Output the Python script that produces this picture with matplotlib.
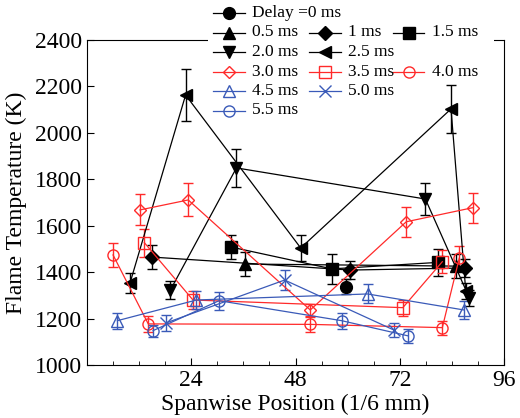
import matplotlib
matplotlib.use("Agg")
import matplotlib.pyplot as plt
from matplotlib.lines import Line2D
from matplotlib.patches import Rectangle
from matplotlib.ticker import MultipleLocator

plt.rcParams['font.family'] = ['Liberation Serif', 'DejaVu Serif']

# spanwise position (1/6 mm), temperature (K), error (K) per delay
x_0 = [59.6]
y_0 = [1337]
e_0 = [32]

x_05 = [36.3, 84.9]
y_05 = [1435, 1426]
e_05 = [50, 50]

x_1 = [14.9, 60.6, 87.0]
y_1 = [1465, 1409, 1418]
e_1 = [50, 40, 40]

x_15 = [33.2, 56.4, 80.8]
y_15 = [1508, 1414, 1442]
e_15 = [50, 65, 58]

x_20 = [19.2, 34.4, 77.9, 88.0]
y_20 = [1323, 1849, 1715, 1290]
e_20 = [40, 82, 70, 35]

x_25 = [9.9, 22.7, 49.2, 83.8, 87.2]
y_25 = [1353, 2163, 1504, 2103, 1318]
e_25 = [43, 112, 55, 105, 35]

x_30 = [12.2, 23.3, 51.4, 73.5, 88.9]
y_30 = [1668, 1711, 1237, 1617, 1678]
e_30 = [67, 71, 26, 65, 65]

x_35 = [13.2, 24.4, 72.7, 81.8]
y_35 = [1527, 1280, 1247, 1445]
e_35 = [60, 39, 34, 50]

x_40 = [6.0, 14.1, 51.4, 81.8, 85.7]
y_40 = [1474, 1177, 1175, 1161, 1460]
e_40 = [52, 34, 32, 30, 54]

x_45 = [7.0, 25.2, 64.6, 86.8]
y_45 = [1191, 1280, 1306, 1237]
e_45 = [34, 39, 41, 39]

x_50 = [18.3, 45.5, 70.6]
y_50 = [1182, 1366, 1151]
e_50 = [34, 45, 30]

x_55 = [15.2, 30.4, 58.6, 73.8]
y_55 = [1148, 1277, 1191, 1126]
e_55 = [26, 39, 34, 30]

labels = ['Delay =0 ms', '0.5 ms', '1 ms', '1.5 ms', '2.0 ms', '2.5 ms',
          '3.0 ms', '3.5 ms', '4.0 ms', '4.5 ms', '5.0 ms', '5.5 ms']

red = '#ff2a2a'
blue = '#3a5ab8'

series = [
    (x_0, y_0, e_0, 'black', 'o', True),
    (x_05, y_05, e_05, 'black', '^', True),
    (x_1, y_1, e_1, 'black', 'D', True),
    (x_15, y_15, e_15, 'black', 's', True),
    (x_20, y_20, e_20, 'black', 'v', True),
    (x_25, y_25, e_25, 'black', '<', True),
    (x_30, y_30, e_30, red, 'D', False),
    (x_35, y_35, e_35, red, 's', False),
    (x_40, y_40, e_40, red, 'o', False),
    (x_45, y_45, e_45, blue, '^', False),
    (x_50, y_50, e_50, blue, 'x', False),
    (x_55, y_55, e_55, blue, 'o', False),
]


def marker_style(color, marker, filled):
    ms = 8.5 if filled else 8
    if marker == 'D':
        ms = 7 if filled else 6.5
    if marker == 'x':
        ms = 8.5
    return dict(marker=marker, markersize=ms,
                markerfacecolor=color if filled else 'none',
                markeredgecolor=color, markeredgewidth=1.0)


fig = plt.figure(figsize=(5.2, 4.18), dpi=100)
ax = fig.add_axes([87 / 520, 1 - 365 / 418, (504 - 87) / 520, (365 - 40) / 418])

for (xs, ys, es, color, marker, filled) in series:
    ax.errorbar(xs, ys, yerr=es, color=color, linewidth=0.9, elinewidth=1.0,
                capsize=3.5, capthick=1.0, ecolor=color,
                **marker_style(color, marker, filled))

ax.set_xlim(0, 96)
ax.set_ylim(1000, 2400)
ax.set_xticks([24, 48, 72, 96])
ax.xaxis.set_minor_locator(MultipleLocator(6))
ax.set_yticks(range(1000, 2401, 200))
ax.tick_params(which='both', direction='in', labelsize=17, top=False, right=False)
ax.tick_params(which='major', length=5)
ax.tick_params(which='minor', length=3)
ax.set_xlabel('Spanwise Position (1/6 mm)', fontsize=17, labelpad=2)
ax.set_ylabel('Flame Temperature (K)', fontsize=17, labelpad=6)

# legend laid out like the original (white background over top spine)
fig.add_artist(Rectangle((208 / 520, 1 - 46 / 418), (494 - 208) / 520, 46 / 418,
                         transform=fig.transFigure, facecolor='white',
                         edgecolor='none', zorder=5))

rows = [13, 32.5, 52, 71.5, 91, 110.5]
cols = [(213, 245, 252), (309, 341, 348), (393, 424, 432)]
slots = [(0, 0), (1, 0), (1, 1), (1, 2), (2, 0), (2, 1),
         (3, 0), (3, 1), (3, 2), (4, 0), (4, 1), (5, 0)]

for (r, c), label, (xs, ys, es, color, marker, filled) in zip(slots, labels, series):
    x0, x1, xt = cols[c]
    yy = 1 - rows[r] / 418
    fig.add_artist(Line2D([x0 / 520, x1 / 520], [yy, yy], transform=fig.transFigure,
                          color=color, linewidth=0.9, zorder=6))
    fig.add_artist(Line2D([(x0 + x1) / 2 / 520], [yy], transform=fig.transFigure,
                          linestyle='none', zorder=7, **marker_style(color, marker, filled)))
    fig.text(xt / 520, yy, label, fontsize=12.5, va='center', ha='left', zorder=8)

fig.savefig('out.png', dpi=100)
